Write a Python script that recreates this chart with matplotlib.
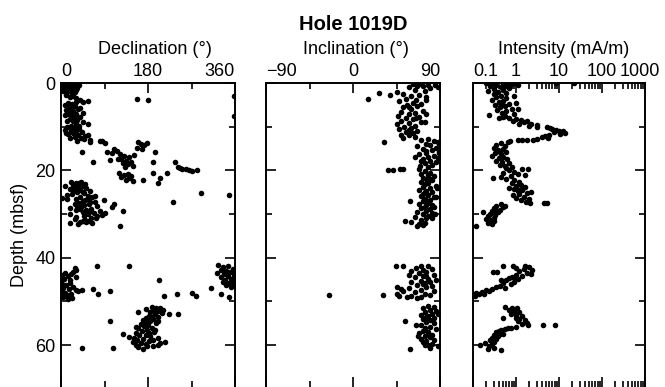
import matplotlib
matplotlib.use("Agg")
import matplotlib.pyplot as plt
import numpy as np
from matplotlib.ticker import FixedLocator, LogLocator, NullFormatter
from matplotlib.transforms import ScaledTranslation

# ---------------------------------------------------------------- data
# (depth in mbsf, declination in degrees)
decl_upper = [
    (0.2, 3), (0.3, 12), (0.4, 20), (0.3, 28), (0.6, 6), (0.8, 15), (1.0, 2), (1.1, 24),
    (1.3, 9), (1.5, 18), (1.7, 30), (1.9, 5), (2.1, 12), (2.3, 22), (0.5, 38), (1.2, 33),
    (3.0, 358), (7.5, 358), (3.7, 157), (3.9, 179),
    (2.8, 10), (3.0, 25), (3.3, 18), (3.5, 30), (3.8, 40), (4.0, 33), (4.1, 56), (4.3, 45),
    (4.6, 15), (4.8, 22), (5.0, 8), (5.2, 28), (5.5, 12), (5.7, 20), (6.0, 35), (6.2, 10),
    (6.4, 25), (6.7, 18), (7.0, 30), (7.2, 14), (7.5, 22), (7.7, 40), (8.0, 28), (8.2, 18),
    (8.5, 34), (8.8, 24), (9.0, 45), (9.3, 30), (9.5, 56), (9.8, 20), (10.0, 12), (10.3, 28),
    (10.5, 38), (10.7, 20), (11.0, 32), (11.2, 44), (11.5, 25), (11.7, 15), (12.0, 36),
    (12.2, 50), (12.4, 28), (12.7, 42), (13.0, 60), (13.2, 34), (10.8, 8), (11.8, 55), (6.8, 46),
    (1.6, 8), (2.0, 28), (4.4, 30), (5.8, 40), (7.3, 8), (8.6, 12), (9.9, 38), (11.4, 10),
    (12.6, 18), (12.9, 48),
]
decl_swing = [
    (13.6, 60), (15.7, 43), (18.2, 66), (13.2, 81), (13.7, 91), (15.7, 95), (17.6, 101),
    (15.0, 110), (15.5, 115), (16.0, 105), (16.2, 122), (16.8, 130), (17.0, 140), (17.3, 125),
    (17.8, 135), (18.0, 145), (18.3, 128), (18.6, 138), (19.0, 148), (17.5, 118), (16.5, 150),
    (19.2, 132), (20.6, 120), (21.0, 130), (21.5, 125), (21.8, 140), (22.2, 135), (22.5, 148),
    (21.2, 145), (20.8, 138), (13.5, 160), (14.0, 165), (14.3, 172), (14.8, 158), (15.2, 168),
    (13.8, 178), (15.8, 194), (18.0, 191), (20.6, 191), (22.2, 170), (21.7, 205), (23.0, 201),
    (20.6, 219), (18.2, 236), (19.3, 242), (19.6, 250), (19.8, 258), (20.0, 264), (20.2, 270),
    (20.0, 281), (19.5, 246), (27.3, 232), (25.2, 289), (25.6, 348), (13.3, 84),
]
decl_mid = [
    (22.6, 20), (22.8, 30), (23.0, 38), (23.3, 25), (23.5, 45), (23.8, 35), (24.0, 52),
    (24.2, 28), (24.5, 40), (24.8, 60), (25.0, 33), (25.2, 48), (25.5, 22), (25.8, 55),
    (26.0, 40), (26.2, 65), (26.5, 30), (26.8, 50), (27.0, 45), (27.2, 70), (27.5, 38),
    (27.8, 58), (28.0, 48), (28.2, 75), (28.5, 42), (28.8, 62), (29.0, 52), (29.2, 80),
    (29.5, 45), (29.8, 68), (30.0, 55), (30.2, 85), (30.5, 48), (30.8, 62), (31.0, 72),
    (31.3, 50), (31.6, 58), (31.8, 40), (32.0, 65), (32.3, 35), (23.6, 8), (26.4, 3),
    (26.6, 12), (28.6, 19), (30.0, 19), (32.0, 19), (27.8, 110), (28.4, 105), (29.4, 128),
    (32.7, 122), (24.3, 18), (25.6, 12), (29.0, 30), (30.6, 30), (31.2, 28), (29.7, 90),
    (26.9, 88), (23.1, 50), (24.6, 25), (25.9, 70), (27.6, 28), (28.9, 40), (30.4, 75),
    (31.5, 45), (26.3, 55), (28.1, 33), (29.6, 58), (31.9, 52), (24.9, 45), (22.7, 42),
    (27.3, 60),
]
decl_lower = [
    (42.3, 28), (42.8, 32), (43.3, 25), (43.5, 8), (43.8, 20), (44.0, 3), (44.3, 14),
    (44.8, 6), (45.0, 18), (45.7, 19), (46.0, 2), (46.3, 10), (46.7, 25), (47.0, 5),
    (47.2, 16), (47.4, 30), (47.6, 36), (48.0, 8), (48.3, 20), (48.6, 12), (48.9, 4),
    (49.2, 22), (49.5, 15), (45.3, 0.5), (47.8, 1), (44.5, 30),
    (41.8, 74), (41.8, 141), (47.1, 67), (48.2, 77), (47.6, 101), (47.3, 43), (45.0, 202),
    (48.7, 213), (48.2, 240), (48.0, 271), (48.7, 279), (46.9, 310), (48.2, 332), (49.0, 348),
    (54.5, 101), (57.4, 128), (60.6, 43), (60.6, 108), (52.8, 224), (52.8, 242),
    (41.6, 325), (41.8, 345), (42.2, 335), (42.5, 355), (42.8, 330), (43.0, 342), (43.3, 350),
    (43.5, 322), (43.8, 338), (44.0, 358), (44.2, 345), (44.5, 330), (44.8, 352), (45.0, 340),
    (45.3, 356), (45.6, 335), (45.8, 348), (46.0, 358), (46.3, 342), (46.6, 352), (43.0, 360),
    (44.6, 360), (45.5, 359),
    (51.2, 188), (51.4, 196), (51.6, 204), (51.9, 192), (52.2, 200), (52.4, 185), (52.7, 208),
    (53.0, 194), (53.3, 182), (53.5, 200), (53.8, 176), (54.0, 190), (54.3, 170), (54.6, 185),
    (54.9, 196), (55.1, 165), (55.4, 180), (55.7, 172), (56.0, 188), (56.2, 160), (56.5, 178),
    (56.8, 168), (57.0, 192), (57.3, 155), (57.6, 175), (57.8, 162), (58.0, 185), (58.3, 150),
    (58.6, 170), (58.8, 158), (59.0, 182), (59.3, 148), (59.5, 165), (59.8, 175), (60.0, 155),
    (60.3, 190), (60.5, 160), (60.8, 170), (59.6, 205), (59.2, 215), (58.4, 200), (60.0, 200),
    (51.8, 175), (55.9, 155), (58.2, 140), (52.5, 160),
    (52.0, 210), (53.6, 188), (55.0, 175), (57.2, 182), (58.9, 190), (60.2, 178), (56.6, 195),
    (54.4, 200),
]

# (depth in mbsf, inclination in degrees)
incl_upper = [
    (0.2, 62), (0.3, 70), (0.4, 78), (0.5, 85), (0.6, 66), (0.8, 72), (1.0, 58), (1.2, 80),
    (1.5, 64), (1.8, 74), (2.0, 45), (2.3, 27), (2.7, 38), (3.6, 15), (2.5, 52), (2.8, 68),
    (3.0, 60), (3.3, 75), (3.6, 55), (3.9, 65), (4.2, 48), (4.5, 62), (4.8, 70), (5.0, 56),
    (5.3, 66), (5.6, 52), (6.0, 60), (6.3, 72), (6.6, 50), (6.9, 64), (7.2, 58), (7.5, 47),
    (7.8, 68), (8.0, 55), (8.3, 62), (8.6, 50), (8.9, 70), (9.2, 58), (9.5, 46), (9.8, 64),
    (10.0, 53), (10.3, 60), (10.6, 48), (10.9, 66), (11.2, 55), (11.5, 62), (11.8, 50),
    (12.0, 58), (12.3, 64), (12.5, 52), (1.0, 88), (4.0, 75), (7.0, 76), (9.0, 74), (13.5, 32),
    (12.8, 78), (13.0, 70), (13.3, 84), (13.6, 88), (13.9, 75), (14.2, 80), (14.5, 66),
    (14.8, 86), (15.1, 72), (15.4, 82), (15.7, 89), (16.0, 76), (16.3, 68), (16.6, 84),
    (16.9, 78), (17.2, 88), (17.5, 72), (17.8, 80), (18.1, 86), (18.4, 74), (18.7, 82),
    (19.0, 69), (19.3, 78), (14.0, 89), (16.0, 89), (17.0, 64),
    (20.0, 36), (20.0, 41), (19.7, 49), (19.6, 52),
    (5.5, 58), (8.1, 65), (10.8, 58), (15.5, 76), (17.9, 70),
]
incl_mid = [
    (19.8, 68), (20.2, 74), (20.5, 80), (20.8, 70), (21.1, 78), (21.4, 84), (21.7, 72),
    (22.0, 76), (22.3, 82), (22.6, 70), (22.9, 78), (23.2, 74), (23.5, 86), (23.8, 72),
    (24.1, 80), (24.4, 68), (24.7, 76), (25.0, 82), (25.3, 72), (25.6, 78), (25.9, 70),
    (26.2, 84), (26.5, 74), (26.8, 80), (27.0, 59), (27.1, 72), (27.4, 78), (27.7, 68),
    (28.0, 82), (28.3, 74), (28.6, 70), (28.9, 80), (29.2, 76), (29.5, 66), (29.8, 82),
    (30.1, 72), (30.4, 78), (30.7, 64), (31.0, 76), (31.3, 70), (31.7, 54), (31.8, 60),
    (32.0, 74), (32.3, 68), (32.6, 72), (32.8, 66), (24.0, 87), (26.0, 86), (28.5, 84),
    (30.0, 85), (21.9, 80), (24.9, 74), (27.9, 76), (30.9, 82),
]
incl_lower = [
    (42.0, 44), (42.0, 52), (41.8, 70), (42.0, 78), (42.3, 65), (42.5, 82), (42.8, 72),
    (43.0, 60), (43.3, 76), (43.6, 68), (43.9, 84), (44.2, 72), (44.5, 64), (44.8, 78),
    (45.0, 86), (45.3, 70), (45.6, 80), (45.9, 74), (46.2, 66), (46.5, 82), (46.8, 76),
    (47.0, 58), (47.3, 70), (47.6, 84), (47.9, 64), (48.2, 74), (48.5, 80), (48.8, 60),
    (49.0, 70), (48.6, -25), (48.6, 31), (46.8, 46), (47.2, 50), (48.2, 45), (48.7, 48),
    (48.9, 56), (47.6, 52), (45.5, 60), (44.0, 58), (49.2, 66), (44.1, 76), (46.0, 72),
    (51.0, 78), (51.3, 84), (51.6, 72), (51.9, 80), (52.2, 86), (52.5, 74), (52.8, 82),
    (53.1, 70), (53.4, 78), (53.7, 84), (54.0, 72), (54.3, 80), (54.6, 54), (54.7, 76),
    (55.0, 84), (55.3, 70), (55.5, 65), (55.8, 80), (56.1, 74), (56.4, 86), (56.7, 72),
    (57.0, 78), (57.3, 68), (57.6, 82), (57.9, 74), (58.2, 80), (58.5, 70), (58.8, 84),
    (59.1, 76), (59.4, 72), (59.7, 82), (60.0, 78), (60.3, 88), (60.6, 80), (61.0, 59),
    (58.0, 67), (53.0, 88), (53.5, 76), (57.8, 78), (59.9, 74),
]

# (depth in mbsf, intensity in mA/m)
inten_upper = [
    (0.0, 8.5), (0.0, 22), (0.1, 0.2), (0.1, 0.3), (0.1, 0.7), (0.1, 1.0),
    (0.2, 0.5), (0.3, 0.8), (0.4, 1.1), (0.5, 0.35), (0.6, 0.6), (0.8, 0.25), (1.0, 0.45),
    (1.2, 0.7), (1.4, 0.3), (1.6, 0.5), (1.8, 0.22), (2.0, 0.38), (2.2, 0.6),
    (2.6, 0.3), (2.9, 0.45), (3.2, 0.35), (3.5, 0.6), (3.8, 0.28), (4.1, 0.5), (4.4, 0.4),
    (4.7, 0.7), (5.0, 0.32), (5.3, 0.55), (5.6, 0.42), (5.9, 0.8), (6.2, 0.36), (6.5, 0.6),
    (6.8, 0.48), (7.1, 0.9), (7.4, 0.24), (7.6, 0.55), (7.9, 0.7), (8.2, 1.0), (8.0, 0.4),
    (8.5, 1.3), (8.8, 0.85), (8.6, 1.8), (9.0, 1.5), (9.3, 2.2), (9.5, 1.2), (9.6, 3.0),
    (9.8, 2.0), (10.0, 3.0), (10.0, 5.2), (4.5, 1.0), (6.0, 1.1), (3.0, 0.9),
    (10.3, 6.3), (10.5, 7.0), (10.8, 8.5), (11.0, 10.0), (11.2, 11.5), (11.5, 13.5),
    (11.3, 7.5), (11.0, 12.5), (11.7, 10.5), (12.0, 6.0), (12.1, 4.8), (12.4, 4.0),
    (12.5, 5.5), (12.8, 3.0), (13.0, 2.5), (13.0, 1.8), (13.0, 1.35), (13.1, 1.1),
    (13.3, 0.73), (13.4, 0.65),
    (13.8, 0.45), (14.2, 0.35), (14.5, 0.55), (14.8, 0.3), (15.1, 0.5), (15.4, 0.38),
    (15.7, 0.6), (16.0, 0.32), (16.3, 0.45), (16.6, 0.27), (16.9, 0.5), (17.2, 0.4),
    (17.5, 0.62), (17.8, 0.35), (18.1, 0.48), (18.4, 0.7), (18.7, 0.42), (19.0, 0.55),
    (19.3, 0.8), (19.5, 0.6), (19.6, 1.35), (19.7, 1.9), (21.0, 1.6),
    (20.0, 0.7), (20.3, 0.9), (20.6, 0.5), (20.9, 1.1), (21.2, 0.75), (21.5, 0.45),
    (21.8, 0.29), (22.0, 0.6), (22.3, 0.9), (22.6, 1.2),
    (23.0, 0.8), (23.3, 1.3), (23.6, 1.0), (23.9, 1.6), (24.2, 0.9), (24.5, 1.4), (24.8, 1.1),
    (25.1, 1.8), (25.4, 1.2), (25.7, 0.85), (26.0, 1.5), (26.3, 1.0), (26.6, 2.0), (26.9, 1.3),
    (27.2, 1.7), (27.5, 2.1), (27.5, 4.4), (27.5, 5.2), (24.0, 0.7), (25.0, 2.2),
    (27.8, 0.45), (28.1, 0.35), (28.4, 0.5), (28.7, 0.3), (29.0, 0.42), (29.3, 0.28),
    (29.6, 0.38), (29.9, 0.25), (30.2, 0.33), (30.5, 0.22), (30.8, 0.3), (31.1, 0.2),
    (31.4, 0.26), (31.7, 0.3), (32.0, 0.22), (32.3, 0.28), (32.7, 0.12), (29.5, 0.17),
    (28.2, 0.55), (5.1, 0.45), (7.8, 0.5), (15.9, 0.42), (24.4, 1.2), (29.1, 0.33),
]
inten_lower = [
    (41.8, 1.6), (42.0, 0.5), (42.0, 0.85), (42.2, 2.0), (42.5, 1.5), (42.8, 2.3), (43.0, 1.2),
    (43.3, 0.29), (43.3, 0.36), (43.5, 1.8), (43.8, 2.2), (44.0, 1.0), (44.3, 1.4), (44.6, 0.7),
    (44.9, 1.1), (45.2, 0.6), (45.5, 0.9), (45.8, 0.5), (46.1, 0.75), (46.4, 0.42), (46.7, 0.35),
    (46.9, 0.55), (47.2, 0.28), (47.4, 0.2), (47.6, 0.24), (47.8, 0.16), (48.0, 0.12),
    (48.2, 0.18), (48.4, 0.1), (48.6, 0.085), (48.3, 0.14), (48.8, 0.11), (45.0, 0.45),
    (44.4, 0.8), (42.4, 1.0), (44.7, 0.95),
    (51.2, 0.55), (51.4, 0.8), (51.6, 1.05), (51.9, 0.7), (52.2, 0.9), (52.5, 1.2), (52.8, 0.75),
    (53.1, 1.0), (53.4, 1.4), (53.7, 0.5), (54.0, 1.2), (54.3, 1.6), (54.6, 1.1), (54.9, 1.8),
    (55.2, 1.4), (55.5, 1.9), (55.3, 4.2), (55.3, 8.0), (55.8, 1.0), (56.0, 0.75), (56.3, 0.55),
    (56.5, 0.45), (56.8, 0.4), (57.1, 0.35), (57.4, 0.42), (57.7, 0.3), (58.0, 0.38),
    (58.3, 0.28), (58.6, 0.34), (58.9, 0.25), (59.2, 0.3), (59.5, 0.19), (59.8, 0.27),
    (60.0, 0.145), (60.3, 0.24), (60.6, 0.3), (60.9, 0.22), (61.1, 0.46), (57.5, 0.5),
    (56.2, 0.65), (53.9, 1.0), (58.1, 0.32),
]

decl_ticks = [0, 180, 360]
decl_minor = [90, 270]
incl_ticks = [-90, 0, 90]
incl_minor = [-45, 45]
inten_ticks = [0.1, 1, 10, 100, 1000]
inten_tick_labels = ["0.1", "1", "10", "100", "1000"]
depth_ticks = [0, 20, 40, 60]
depth_minor = [10, 30, 50]
depth_bottom = 69.6

# ---------------------------------------------------------------- figure
plt.rcParams["font.family"] = ["Liberation Sans", "DejaVu Sans"]

W, H = 665, 387
TOP = 83.0
fig = plt.figure(figsize=(W / 100, H / 100), dpi=100)

panels_px = [(61, 235), (266, 440), (473, 645)]
axes = [fig.add_axes([x0 / W, 0.0, (x1 - x0) / W, (H - TOP) / H]) for x0, x1 in panels_px]
ax1, ax2, ax3 = axes
panel_height_px = H - TOP

MAJOR_LEN_PX = 10.0
MINOR_LEN_PX = 6.0


def scatter(ax, pairs):
    arr = np.array(pairs, dtype=float)
    ax.plot(arr[:, 1], arr[:, 0], "o", ms=4.0, color="black", mec="none")


def style(ax, show_ylabels):
    for sp in ax.spines.values():
        sp.set_linewidth(1.4)
    ax.spines["bottom"].set_visible(False)
    ax.set_ylim(depth_bottom, 0)
    ax.yaxis.set_major_locator(FixedLocator(depth_ticks))
    ax.yaxis.set_minor_locator(FixedLocator(depth_minor))
    ax.xaxis.set_tick_params(which="major", direction="in", length=7.5, width=1.2,
                             top=False, bottom=True, labeltop=True, labelbottom=False,
                             labelsize=13, pad=2)
    ax.xaxis.set_tick_params(which="minor", direction="in", length=4.5, width=1.2,
                             top=False, bottom=True, labeltop=False, labelbottom=False)
    ax.yaxis.set_tick_params(which="major", direction="in", length=7.5, width=1.2,
                             left=True, right=True, labelleft=show_ylabels,
                             labelright=False, labelsize=13, pad=4)
    ax.yaxis.set_tick_params(which="minor", direction="in", length=4.5, width=1.2,
                             left=True, right=True, labelleft=False, labelright=False)


def top_ticks(ax):
    """Inward tick marks hanging from the top frame at the axis' own tick locations."""
    lo, hi = sorted(ax.get_xlim())
    trans = ax.get_xaxis_transform()
    for locs, length in ((ax.xaxis.get_majorticklocs(), MAJOR_LEN_PX),
                         (ax.xaxis.get_minorticklocs(), MINOR_LEN_PX)):
        locs = [v for v in locs if lo <= v <= hi]
        ax.vlines(locs, 1 - length / panel_height_px, 1, transform=trans,
                  colors="black", linewidth=1.2, clip_on=False, zorder=3)


# Declination
for seg in (decl_upper, decl_swing, decl_mid, decl_lower):
    scatter(ax1, seg)
ax1.set_xlim(0, 360)
ax1.xaxis.set_major_locator(FixedLocator(decl_ticks))
ax1.xaxis.set_minor_locator(FixedLocator(decl_minor))
style(ax1, True)
ax1.set_xticklabels([str(t) for t in decl_ticks])

# Inclination
for seg in (incl_upper, incl_mid, incl_lower):
    scatter(ax2, seg)
ax2.set_xlim(-90, 90)
ax2.xaxis.set_major_locator(FixedLocator(incl_ticks))
ax2.xaxis.set_minor_locator(FixedLocator(incl_minor))
style(ax2, False)
ax2.set_xticklabels(["\u221290", "0", "90"])

# Intensity
ax3.set_xscale("log")
for seg in (inten_upper, inten_lower):
    scatter(ax3, seg)
ax3.set_xlim(0.1, 1000)
ax3.xaxis.set_major_locator(FixedLocator(inten_ticks))
ax3.xaxis.set_minor_locator(LogLocator(base=10, subs=np.arange(2, 10), numticks=50))
ax3.xaxis.set_minor_formatter(NullFormatter())
style(ax3, False)
ax3.set_xticklabels(inten_tick_labels)

for ax in axes:
    top_ticks(ax)
    ax.set_xlim(ax.get_xlim())
    ax.set_ylim(depth_bottom, 0)

# Titles and axis names
fig.text(353 / W, 1 - 24 / H, "Hole 1019D", ha="center", va="center",
         fontsize=14.5, fontweight="bold")
fig.text(155 / W, 1 - 49 / H, "Declination (°)", ha="center", va="center", fontsize=13)
fig.text(356 / W, 1 - 49 / H, "Inclination (°)", ha="center", va="center", fontsize=13)
fig.text(564 / W, 1 - 49 / H, "Intensity (mA/m)", ha="center", va="center", fontsize=13)
fig.text(20 / W, 1 - 235 / H, "Depth (mbsf)", rotation=90, ha="center", va="center",
         fontsize=13)

# keep the end labels inside the frames
for ax in axes:
    ax.xaxis.get_major_ticks()[0].label2.set_horizontalalignment("left")
for ax in (ax1, ax2):
    ax.xaxis.get_major_ticks()[-1].label2.set_horizontalalignment("right")
last = ax3.xaxis.get_major_ticks()[-1].label2
last.set_transform(last.get_transform() + ScaledTranslation(-5 / 100, 0, fig.dpi_scale_trans))

fig.savefig("out.png", dpi=100)
